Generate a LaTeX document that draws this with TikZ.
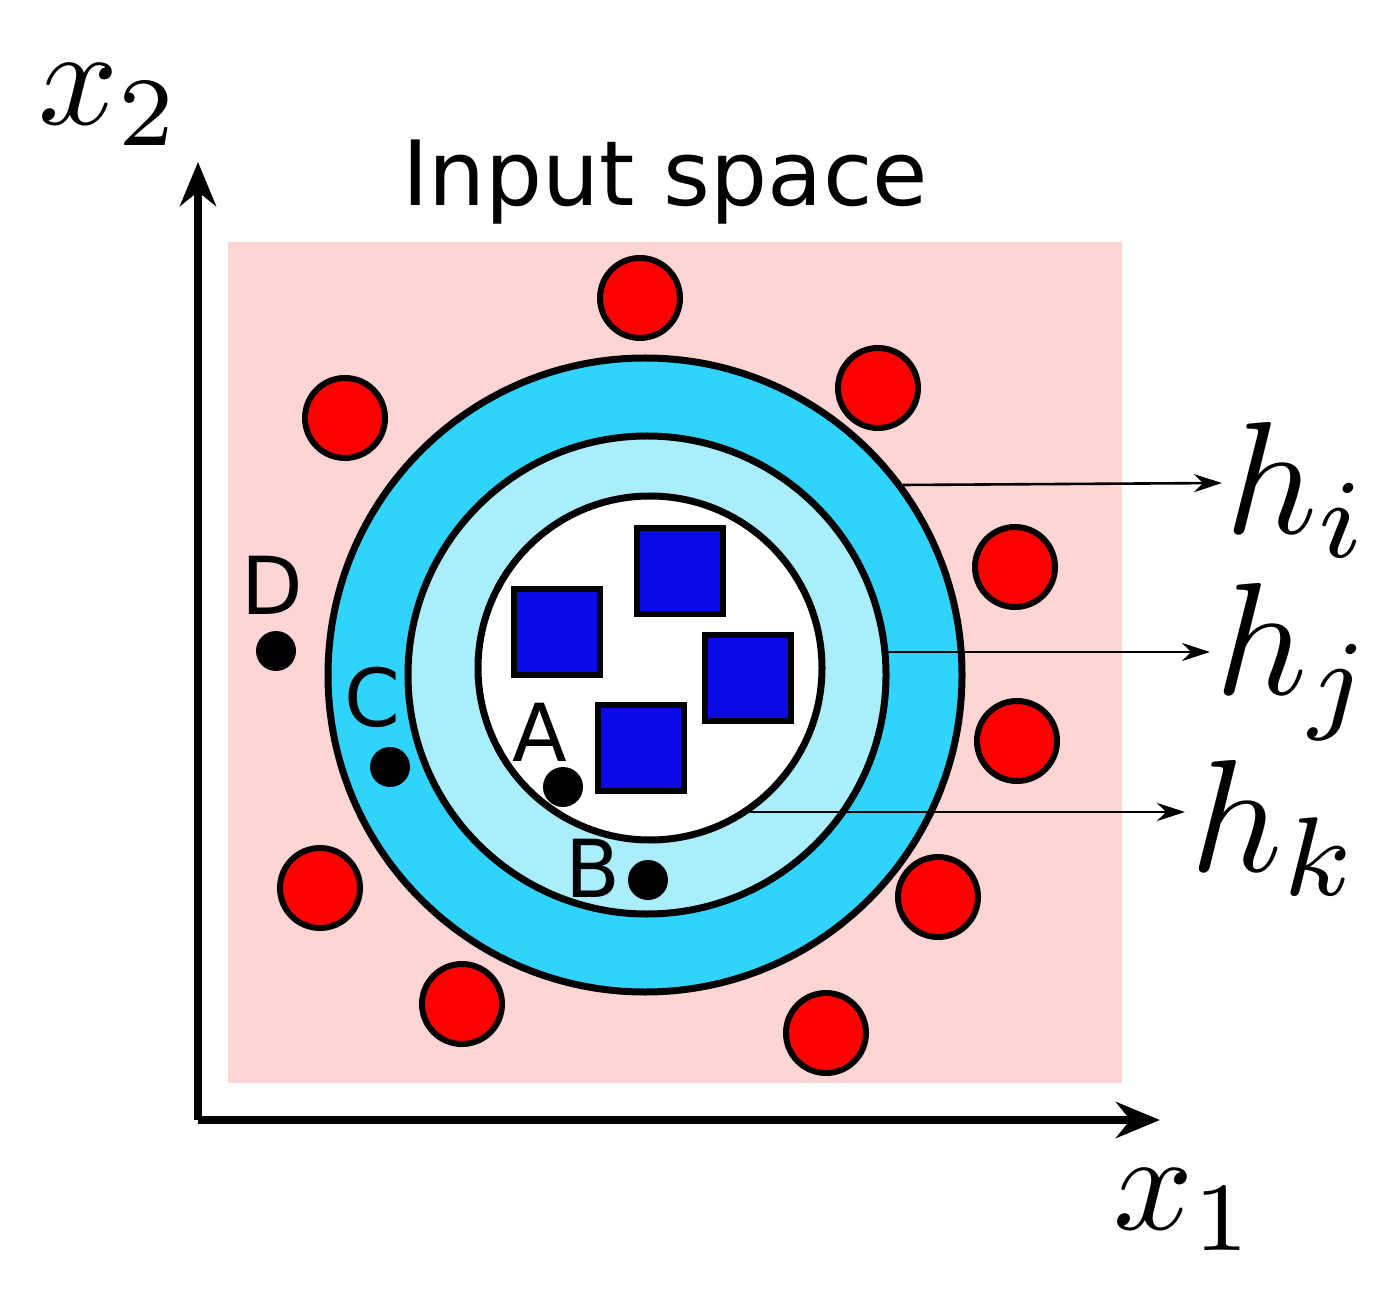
\documentclass[tikz,border=0pt]{standalone}
\usepackage{fontspec}
\setsansfont{DejaVu Sans}
\usetikzlibrary{arrows.meta}
\definecolor{pinkbg}{HTML}{FDD5D5}
\definecolor{ringA}{HTML}{2FD3FC}
\definecolor{ringB}{HTML}{AAEEFC}
\definecolor{sq}{HTML}{0A0AE6}
\begin{document}
\begin{tikzpicture}[x=0.5pt,y=-0.5pt,
  redc/.style={circle,draw=black,line width=3pt,fill=red,minimum size=40pt,inner sep=0},
  bsq/.style={draw=black,line width=3pt,fill=sq,minimum size=43pt,inner sep=0},
  pt/.style={circle,fill=black,minimum size=20pt,inner sep=0},
  lab/.style={font=\sffamily\fontsize{40}{48}\selectfont,inner sep=0},
  ring/.style={draw=black,line width=3.5pt},
  harr/.style={-{Stealth[length=14pt,width=9pt]},line width=1.3pt}]
\useasboundingbox (0,0) rectangle (1375,1293);
\fill[pinkbg] (228,242) rectangle (1122,1083);
\coordinate (O) at (198,1120);
\coordinate (Xe) at (1160,1120);
\coordinate (Ye) at (198,162);
\draw[line width=4pt,-{Stealth[length=22pt,width=18pt]}] (O) -- (Xe);
\draw[line width=4pt,-{Stealth[length=22pt,width=18pt]}] (O) -- (Ye);
\node (x2) at (110,105) {\scalebox{7}{$x_2$}};
\node (x1) at (1185,1210) {\scalebox{7}{$x_1$}};
\node (title) at (665,182) {\sffamily\fontsize{45}{54}\selectfont Input space};
\node[ring,circle,fill=ringA,minimum size=317pt,inner sep=0] (ci) at (645,675) {};
\node[ring,circle,fill=ringB,minimum size=239pt,inner sep=0] (cj) at (647,675) {};
\node[ring,circle,fill=white,minimum size=172pt,inner sep=0] (ck) at (650,668) {};
\foreach \n/\x/\y in {r1/640/298,r2/345/418,r3/878/388,r4/1015/567,r5/1017/741,r6/320/888,r7/938/897,r8/462/1004,r9/826/1033}
  \node[redc] (\n) at (\x,\y) {};
\foreach \n/\x/\y in {s1/557/632,s2/680/571,s3/748/678,s4/641/748}
  \node[bsq] (\n) at (\x,\y) {};
\node[pt] (D) at (276,651) {};
\node[pt] (C) at (390,767) {};
\node[pt] (A) at (563,787) {};
\node[pt] (B) at (648,880) {};
\node[lab] (Dl) at (272,585) {D};
\node[lab] (Cl) at (372,697) {C};
\node[lab] (Al) at (540,732) {A};
\node[lab] (Bl) at (593,868) {B};
\coordinate (hi0) at (903,485);
\coordinate (hj0) at (888,652);
\coordinate (hk0) at (750,812);
\node[anchor=west,inner sep=0] (hi) at (1225,490) {\scalebox{8}{$h_i$}};
\node[anchor=west,inner sep=0] (hj) at (1215,662) {\scalebox{8}{$h_j$}};
\node[anchor=west,inner sep=0] (hk) at (1190,828) {\scalebox{8}{$h_k$}};
\draw[harr] (hi0) -- (1222,483);
\draw[harr] (hj0) -- (1210,652);
\draw[harr] (hk0) -- (1185,812);
\end{tikzpicture}
\end{document}
